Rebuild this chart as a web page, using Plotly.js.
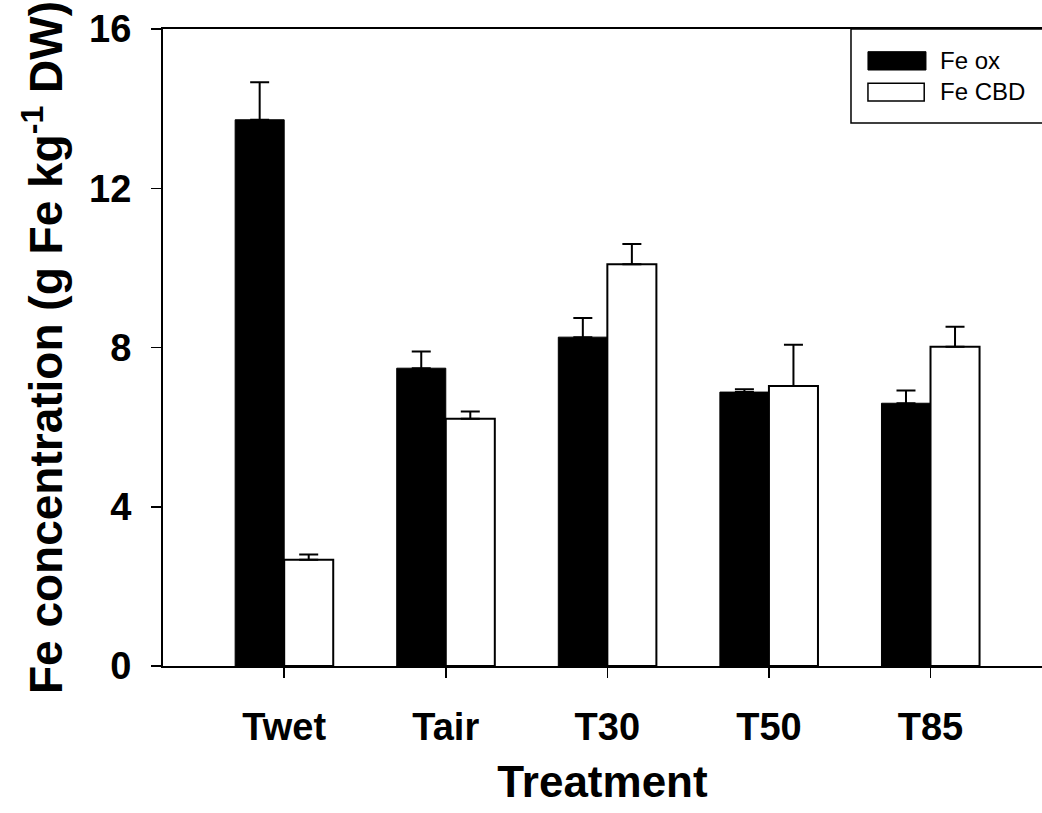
<!DOCTYPE html>
<html>
<head>
<meta charset="utf-8">
<script src="https://cdn.plot.ly/plotly-3.0.1.min.js"></script>
<style>html,body{margin:0;padding:0;background:#fff;}#chart{width:1042px;height:813px;}</style>
</head>
<body>
<div id="chart"></div>
<script>
const categories = ["Twet", "Tair", "T30", "T50", "T85"];
const feOx = [13.72, 7.48, 8.26, 6.88, 6.60];
const feOxErr = [0.94, 0.42, 0.48, 0.07, 0.32];
const feCBD = [2.67, 6.21, 10.09, 7.03, 8.02];
const feCBDErr = [0.13, 0.18, 0.51, 1.04, 0.50];
const seriesNames = ["Fe ox", "Fe CBD"];
const yTicks = [0, 4, 8, 12, 16];

const FONT = "Liberation Sans, Arial, Helvetica, sans-serif";

const traces = [
  {
    type: "bar", name: seriesNames[0], x: categories, y: feOx,
    marker: {color: "#000000", line: {color: "#000000", width: 1}},
    error_y: {type: "data", symmetric: false, array: feOxErr, arrayminus: feOx.map(() => 0),
              color: "#000000", thickness: 2, width: 9.5},
    showlegend: false, hoverinfo: "x+y"
  },
  {
    type: "bar", name: seriesNames[1], x: categories, y: feCBD,
    marker: {color: "#ffffff", line: {color: "#000000", width: 2}},
    error_y: {type: "data", symmetric: false, array: feCBDErr, arrayminus: feCBD.map(() => 0),
              color: "#000000", thickness: 2, width: 9.5},
    showlegend: false, hoverinfo: "x+y"
  }
];

const layout = {
  width: 1042, height: 813,
  margin: {l: 163, r: 0, t: 29, b: 147, pad: 0},
  paper_bgcolor: "#ffffff", plot_bgcolor: "#ffffff",
  barmode: "group", bargap: 0.393, bargroupgap: 0,
  font: {family: FONT, color: "#000000"},
  xaxis: {
    type: "category", range: [-0.75, 4.69],
    showline: true, linecolor: "#000000", linewidth: 2, mirror: true,
    ticks: "outside", ticklen: 10, tickwidth: 1.5, tickcolor: "#000000",
    showgrid: false, zeroline: false,
    tickfont: {family: FONT, size: 38, weight: "bold", color: "#000000"},
    ticklabelstandoff: 16,
    title: {text: "Treatment", font: {family: FONT, size: 44, weight: "bold", color: "#000000"}, standoff: 20}
  },
  yaxis: {
    range: [0, 16], tickvals: yTicks, ticktext: yTicks.map(String),
    showline: true, linecolor: "#000000", linewidth: 2, mirror: false,
    ticks: "outside", ticklen: 10, tickwidth: 1.5, tickcolor: "#000000",
    showgrid: false, zeroline: false,
    tickfont: {family: FONT, size: 38, weight: "bold", color: "#000000"},
    ticklabelstandoff: 12,
    title: {text: "Fe concentration (g Fe kg<sup>-1</sup> DW)", font: {family: FONT, size: 46, weight: "bold", color: "#000000"}, standoff: 12}
  },
  shapes: [
    {type: "rect", xref: "paper", yref: "paper", x0: 0.7827, x1: 1.02, y0: 0.8524, y1: 1.0,
     line: {color: "#000000", width: 1.5}, fillcolor: "rgba(255,255,255,1)", layer: "above"},
    {type: "rect", xref: "paper", yref: "paper", x0: 0.8020, x1: 0.8680, y0: 0.9356, y1: 0.9644,
     line: {color: "#000000", width: 1}, fillcolor: "#000000", layer: "above"},
    {type: "rect", xref: "paper", yref: "paper", x0: 0.8020, x1: 0.8660, y0: 0.8870, y1: 0.9148,
     line: {color: "#000000", width: 1.5}, fillcolor: "#ffffff", layer: "above"}
  ],
  annotations: [
    {xref: "paper", yref: "paper", x: 0.8817, y: 0.9498, xanchor: "left", yanchor: "middle",
     text: seriesNames[0], showarrow: false, font: {family: FONT, size: 24, color: "#000000"}},
    {xref: "paper", yref: "paper", x: 0.8817, y: 0.9011, xanchor: "left", yanchor: "middle",
     text: seriesNames[1], showarrow: false, font: {family: FONT, size: 24, color: "#000000"}}
  ]
};

Plotly.newPlot("chart", traces, layout, {displayModeBar: false, staticPlot: true});
</script>
</body>
</html>
